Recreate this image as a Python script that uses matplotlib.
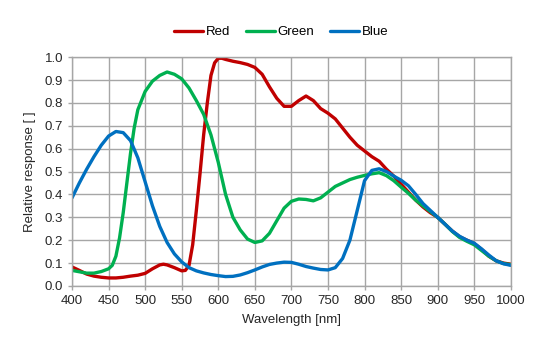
import matplotlib.pyplot as plt
import numpy as np

plt.rcParams['font.family'] = ['Liberation Sans', 'DejaVu Sans']

# spectral response
red_wl = [400, 410, 420, 430, 440, 450, 460, 470, 480, 490, 500, 510, 520, 525, 530, 540,
          550, 555, 560, 565, 570, 575, 580, 585, 590, 595, 600, 605, 610, 620, 630, 640,
          650, 660, 670, 680, 690, 700, 710, 720, 730, 740, 750, 760, 770, 780, 790, 800,
          810, 820, 830, 840, 850, 860, 870, 880, 890, 900, 910, 920, 930, 940, 950, 960,
          970, 980, 990, 1000]
red = [0.083, 0.068, 0.052, 0.043, 0.038, 0.035, 0.035, 0.038, 0.043, 0.047, 0.055, 0.075,
       0.092, 0.095, 0.092, 0.080, 0.066, 0.068, 0.090, 0.18, 0.33, 0.49, 0.66, 0.80, 0.92,
       0.975, 0.995, 0.995, 0.99, 0.982, 0.976, 0.968, 0.955, 0.925, 0.87, 0.82, 0.785, 0.785,
       0.81, 0.83, 0.81, 0.775, 0.755, 0.73, 0.69, 0.65, 0.615, 0.59, 0.565, 0.545, 0.51,
       0.48, 0.445, 0.41, 0.375, 0.345, 0.32, 0.30, 0.27, 0.24, 0.215, 0.20, 0.185, 0.16,
       0.13, 0.11, 0.10, 0.095]

green_wl = [400, 410, 420, 430, 440, 450, 455, 460, 465, 470, 475, 480, 485, 490, 500, 510,
            520, 530, 540, 550, 560, 570, 580, 590, 600, 610, 620, 630, 640, 650, 660, 670,
            680, 690, 700, 710, 720, 730, 740, 750, 760, 770, 780, 790, 800, 810, 820, 830,
            840, 850, 860, 870, 880, 890, 900, 910, 920, 930, 940, 950, 960, 970, 980, 990,
            1000]
green = [0.068, 0.062, 0.056, 0.056, 0.063, 0.075, 0.09, 0.13, 0.21, 0.32, 0.45, 0.58, 0.69,
         0.77, 0.85, 0.895, 0.92, 0.935, 0.925, 0.905, 0.865, 0.81, 0.75, 0.66, 0.54, 0.40,
         0.30, 0.245, 0.205, 0.19, 0.197, 0.23, 0.285, 0.34, 0.37, 0.38, 0.378, 0.372, 0.385,
         0.41, 0.435, 0.45, 0.465, 0.475, 0.483, 0.49, 0.495, 0.482, 0.46, 0.432, 0.405,
         0.375, 0.35, 0.325, 0.30, 0.27, 0.238, 0.212, 0.195, 0.18, 0.155, 0.13, 0.11, 0.098,
         0.093]

blue_wl = [400, 410, 420, 430, 440, 450, 460, 470, 480, 490, 500, 510, 520, 530, 540, 550,
           560, 570, 580, 590, 600, 610, 620, 630, 640, 650, 660, 670, 680, 690, 700, 710,
           720, 730, 740, 750, 760, 770, 780, 790, 800, 810, 820, 830, 840, 850, 860, 870,
           880, 890, 900, 910, 920, 930, 940, 950, 960, 970, 980, 990, 1000]
blue = [0.385, 0.45, 0.51, 0.565, 0.615, 0.655, 0.675, 0.67, 0.635, 0.56, 0.455, 0.35, 0.26,
        0.19, 0.14, 0.105, 0.08, 0.066, 0.057, 0.05, 0.045, 0.041, 0.042, 0.048, 0.058, 0.07,
        0.083, 0.094, 0.1, 0.104, 0.103, 0.095, 0.085, 0.078, 0.072, 0.07, 0.08, 0.12, 0.2,
        0.33, 0.46, 0.505, 0.512, 0.50, 0.48, 0.462, 0.438, 0.40, 0.36, 0.33, 0.30, 0.27,
        0.24, 0.217, 0.20, 0.187, 0.162, 0.135, 0.11, 0.097, 0.09]

x_ticks = list(range(400, 1001, 50))
y_ticks = [round(0.1 * i, 1) for i in range(11)]

fig = plt.figure(figsize=(5.54, 3.57), dpi=100)
ax = fig.add_axes([0.130, 0.199, 0.792, 0.641])

ax.plot(red_wl, red, color='#C00000', lw=2.4, label='Red', solid_capstyle='round')
ax.plot(green_wl, green, color='#00B050', lw=2.4, label='Green', solid_capstyle='round')
ax.plot(blue_wl, blue, color='#0070C0', lw=2.4, label='Blue', solid_capstyle='round')

ax.set_xlim(400, 1000)
ax.set_ylim(0, 1.0)
ax.set_xticks(x_ticks)
ax.set_yticks(y_ticks)
ax.set_yticklabels([f'{v:.1f}' for v in y_ticks])
ax.grid(True, color='#A6A6A6', lw=1.0)
ax.set_axisbelow(True)
for s in ax.spines.values():
    s.set_color('#A6A6A6')
    s.set_linewidth(1.0)
ax.tick_params(colors='#A6A6A6', labelcolor='#262626', labelsize=9.5, length=3, width=1)

ax.set_xlabel('Wavelength [nm]', fontsize=9.5, color='#262626', labelpad=5)
ax.set_ylabel('Relative response [ ]', fontsize=9.5, color='#262626', labelpad=6)

fig.legend(loc='upper center', bbox_to_anchor=(0.508, 0.96), ncol=3, frameon=False,
           fontsize=9.5, handlelength=2.2, handletextpad=0.2, columnspacing=1.2)

fig.savefig('out.png', dpi=100)
